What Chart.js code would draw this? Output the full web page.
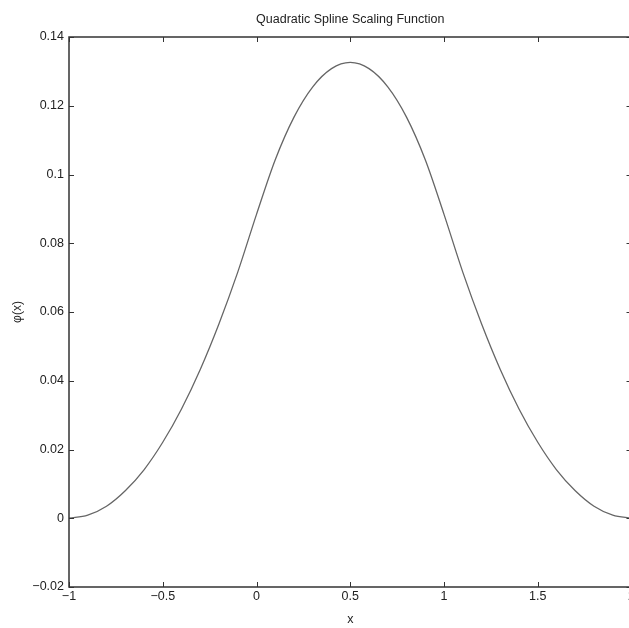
<!DOCTYPE html>
<html>
<head>
<meta charset="utf-8">
<script src="https://cdn.jsdelivr.net/npm/chart.js@4"></script>
<style>
    html, body { margin: 0; padding: 0; background: #fff; overflow: hidden; }
    #wrap { width: 637px; height: 628px; }
</style>
</head>
<body>
<div id="wrap"><canvas id="phiChart"></canvas></div>
<script>
const xValues = [-1, -0.9, -0.8, -0.7, -0.6, -0.5, -0.4, -0.3, -0.2, -0.1,
    0, 0.1, 0.2, 0.3, 0.4, 0.5, 0.6, 0.7, 0.8, 0.9,
    1, 1.1, 1.2, 1.3, 1.4, 1.5, 1.6, 1.7, 1.8, 1.9, 2];
const phiValues = [0, 0.0009, 0.0035, 0.0080, 0.0141, 0.0221, 0.0318, 0.0433, 0.0566, 0.0716,
    0.0884, 0.1043, 0.1167, 0.1255, 0.1308, 0.1326, 0.1308, 0.1255, 0.1167, 0.1043,
    0.0884, 0.0716, 0.0566, 0.0433, 0.0318, 0.0221, 0.0141, 0.0080, 0.0035, 0.0009, 0];
const xTicks = [-1, -0.5, 0, 0.5, 1, 1.5, 2];
const yTicks = [-0.02, 0, 0.02, 0.04, 0.06, 0.08, 0.1, 0.12, 0.14];

const fontFamily = '"Liberation Sans", Arial, Helvetica, sans-serif';
const textColor = '#222';

function fmt(v) {
    return String(Number(v.toFixed(4))).replace('-', '\u2212');
}

// matlab style box with inward ticks on all four sides
const boxPlugin = {
    id: 'matlabBox',
    afterDatasetsDraw(chart) {
        const { ctx, chartArea: a, scales } = chart;
        const len = 5;
        ctx.save();
        ctx.strokeStyle = '#333';
        ctx.lineWidth = 1.5;
        ctx.beginPath();
        ctx.rect(a.left, a.top, a.right - a.left, a.bottom - a.top);
        ctx.stroke();
        ctx.lineWidth = 1;
        ctx.beginPath();
        xTicks.forEach(v => {
            const px = Math.round(scales.x.getPixelForValue(v)) + 0.5;
            ctx.moveTo(px, a.bottom); ctx.lineTo(px, a.bottom - len);
            ctx.moveTo(px, a.top); ctx.lineTo(px, a.top + len);
        });
        yTicks.forEach(v => {
            const py = Math.round(scales.y.getPixelForValue(v)) + 0.5;
            ctx.moveTo(a.left, py); ctx.lineTo(a.left + len, py);
            ctx.moveTo(a.right, py); ctx.lineTo(a.right - len, py);
        });
        ctx.stroke();
        ctx.restore();
    }
};

new Chart(document.getElementById('phiChart'), {
    type: 'line',
    data: {
        datasets: [{
            data: xValues.map((x, i) => ({ x: x, y: phiValues[i] })),
            borderColor: '#666',
            borderWidth: 1.3,
            pointRadius: 0,
            cubicInterpolationMode: 'monotone',
            fill: false
        }]
    },
    options: {
        responsive: true,
        maintainAspectRatio: false,
        animation: false,
        layout: { padding: 0 },
        plugins: {
            legend: { display: false },
            tooltip: { enabled: false },
            title: {
                display: true,
                text: 'Quadratic Spline Scaling Function',
                fullSize: false,
                color: textColor,
                font: { family: fontFamily, size: 12.5, weight: 'normal' },
                padding: { top: 12.5, bottom: 9.5 }
            }
        },
        scales: {
            x: {
                type: 'linear',
                min: -1,
                max: 2,
                grid: { display: false, drawTicks: false },
                border: { display: false },
                afterBuildTicks: s => { s.ticks = xTicks.map(v => ({ value: v })); },
                afterFit: s => { s.height = 41; },
                ticks: {
                    padding: 2,
                    color: textColor,
                    maxRotation: 0,
                    font: { family: fontFamily, size: 12.5 },
                    callback: v => fmt(v)
                },
                title: {
                    display: true,
                    text: 'x',
                    color: textColor,
                    font: { family: fontFamily, size: 12.5 },
                    padding: { top: 0, bottom: 1 }
                }
            },
            y: {
                type: 'linear',
                min: -0.02,
                max: 0.14,
                grid: { display: false, drawTicks: false },
                border: { display: false },
                afterBuildTicks: s => { s.ticks = yTicks.map(v => ({ value: v })); },
                afterFit: s => { s.width = 69; },
                ticks: {
                    padding: 5,
                    color: textColor,
                    font: { family: fontFamily, size: 12.5 },
                    callback: v => fmt(v)
                },
                title: {
                    display: true,
                    text: '\u03c6(x)',
                    color: textColor,
                    font: { family: fontFamily, size: 12 },
                    padding: { top: 10, bottom: 0 }
                }
            }
        }
    },
    plugins: [boxPlugin]
});
</script>
</body>
</html>
